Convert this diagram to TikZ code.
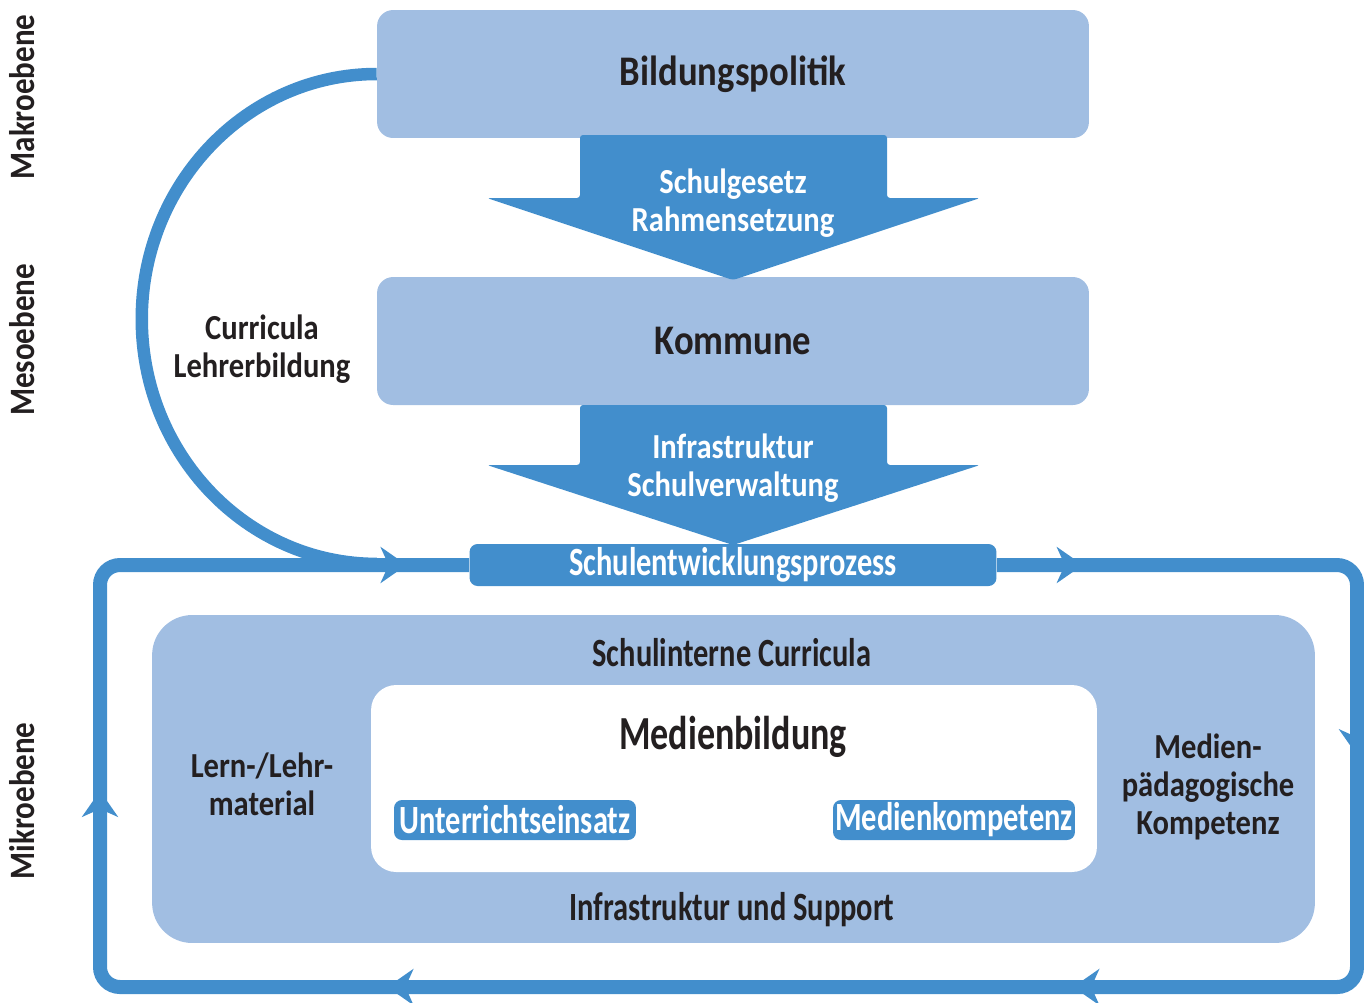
\documentclass[tikz,border=0pt]{standalone}
\usepackage{fontspec}
\setmainfont{Carlito}[FakeStretch=0.87]
\newfontfamily\condfont{Carlito}[FakeStretch=0.76]
\usetikzlibrary{arrows.meta,decorations.markings}
\definecolor{paleblue}{HTML}{A1BEE2}
\definecolor{deepblue}{HTML}{428ECC}
\definecolor{ink}{HTML}{231F20}
\tikzset{
  tierbox/.style   = {shape=rectangle, rounded corners=0.32cm, fill=paleblue,
                      minimum width=14.24cm, minimum height=2.56cm,
                      text=ink, font=\bfseries\fontsize{24}{28}\selectfont},
  tag/.style       = {shape=rectangle, rounded corners=0.16cm, fill=deepblue,
                      inner sep=0pt, text=white,
                      font=\condfont\bfseries\fontsize{22.8}{26}\selectfont},
  flowarrow/.style = {fill=deepblue, rounded corners=0.06cm},
  flowtext/.style  = {align=center, text=white, inner sep=0pt,
                      font=\bfseries\fontsize{20}{21.5}\selectfont},
  textlabel/.style = {align=center, text=ink, inner sep=0pt,
                      font=\bfseries\fontsize{20}{21.5}\selectfont},
  condlabel/.style = {align=center, text=ink, inner sep=0pt,
                      font=\condfont\bfseries\fontsize{22.8}{26}\selectfont},
  sidelabel/.style = {rotate=90, text=ink, inner sep=0pt,
                      font=\bfseries\fontsize{20.3}{22}\selectfont},
  loophead/.tip    = {Stealth[length=0.52cm, width=0.72cm, inset=0.16cm]},
  cycleline/.style = {draw=deepblue, line width=0.28cm, rounded corners=0.4cm,
                      postaction={decorate},
                      decoration={markings,
                        mark=at position 1.72cm with {\arrow{loophead}},
                        mark=at position 10.84cm with {\arrow{loophead}},
                        mark=at position 20.98cm with {\arrow{loophead}},
                        mark=at position 34.7cm with {\arrow{loophead}},
                        mark=at position 44.2cm with {\arrow{loophead}},
                        mark=at position 54.68cm with {\arrow{loophead}}}},
  arcline/.style   = {draw=deepblue, line width=0.25cm}
}
\begin{document}
\begin{tikzpicture}[x=0.02cm, y=-0.02cm]
  \useasboundingbox (0,0) rectangle (1364,1002);

  % levels
  \node [sidelabel] (makro) at (22,97)  {Makroebene};
  \node [sidelabel] (meso)  at (22,340) {Mesoebene};
  \node [sidelabel] (mikro) at (22,801) {Mikroebene};

  \node [tierbox] (bild) at (733,74)  {Bildungspolitik};
  \node [tierbox] (komm) at (733,341) {Kommune};

  % downward arrows
  \fill [flowarrow] (580,135) -- (887,135) -- (887,198) -- (980,198)
        -- (733,280) -- (487,198) -- (580,198) -- cycle;
  \node [flowtext] (gesetz) at (733,203) {Schulgesetz\\Rahmensetzung};
  \fill [flowarrow] (580,405) -- (887,405) -- (887,465) -- (980,465)
        -- (733,545) -- (487,465) -- (580,465) -- cycle;
  \node [flowtext] (verwaltung) at (733,468) {Infrastruktur\\Schulverwaltung};

  \node [tag, minimum width=10.54cm, minimum height=0.84cm] (sep) at (733,565)
        {Schulentwicklungsprozess};

  % school
  \node [shape=rectangle, fill=paleblue, rounded corners=0.8cm,
         minimum width=23.26cm, minimum height=6.56cm] (schule) at (733.5,779) {};
  \node [shape=rectangle, fill=white, rounded corners=0.5cm,
         minimum width=14.52cm, minimum height=3.74cm] (medien) at (734,778.5) {};
  \node [condlabel] (intern)  at (732,653) {Schulinterne Curricula};
  \node [condlabel] (support) at (732,910) {Infrastruktur und Support};
  \node [condlabel, font=\condfont\bfseries\fontsize{27}{30}\selectfont] (bildung) at (733,737) {Medienbildung};
  \node [textlabel] (material)   at (262,784)  {Lern-/Lehr-\\material};
  \node [textlabel] (paedagogik) at (1208,787) {Medien-\\pädagogische\\Kompetenz};
  \node [tag, minimum width=4.84cm, minimum height=0.8cm] (unterricht) at (515,820) {Unterrichtseinsatz};
  \node [tag, minimum width=4.84cm, minimum height=0.8cm] (kompetenz)  at (954,820) {Medienkompetenz};

  % cycle and feedback
  \draw [cycleline] (sep.east) -- (1357,565) -- (1357,987) -- (100,987) -- (100,565) -- (sep.west);
  \draw [arcline] (bild.west) arc [start angle=90, end angle=270, x radius=4.7cm, y radius=4.9cm];
  \node [textlabel] (curricula) at (262,349) {Curricula\\Lehrerbildung};
\end{tikzpicture}
\end{document}
